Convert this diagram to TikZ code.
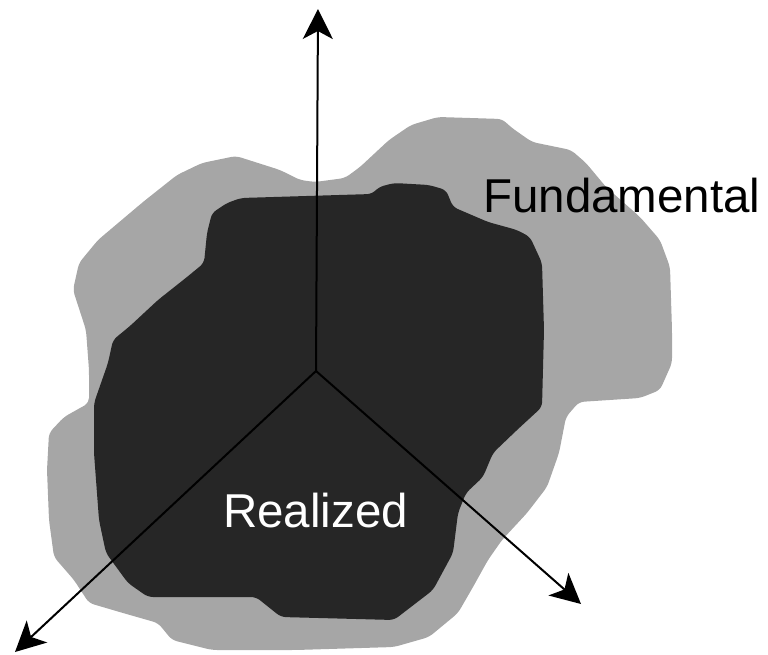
\documentclass[tikz,border=0pt]{standalone}
\usepackage{fontspec}
\setmainfont{Liberation Sans}
\usetikzlibrary{arrows.meta}
\definecolor{outergray}{RGB}{166,166,166}
\definecolor{innerdark}{RGB}{38,38,38}
\tikzset{
  outerblob/.style={fill=outergray, draw=none, rounded corners=5pt},
  innerblob/.style={fill=innerdark, draw=none, rounded corners=5pt},
  axisarrow/.style={draw=black, line width=2pt,
    -{Stealth[length=30pt, width=30pt, inset=8pt]}},
  biglabel/.style={font=\fontsize{47.5}{56}\selectfont, inner sep=0pt}
}
\begin{document}
\begin{tikzpicture}[x=1pt, y=-1pt]
\useasboundingbox (0,0) rectangle (768,655);

% outer region
\path[outerblob] (86,330) -- (73,290) -- (79,263) -- (98,240) -- (143,202)
  -- (177,175) -- (202,163) -- (236,156) -- (280,170) -- (300,180)
  -- (315,182) -- (345,178) -- (360,167) -- (389,140) -- (411,125)
  -- (438,117) -- (502,119) -- (512,128) -- (532,142) -- (571,150)
  -- (586,163) -- (606,187) -- (640,217) -- (660,240) -- (670,267)
  -- (672,330) -- (672,363) -- (660,390) -- (640,398) -- (579,402)
  -- (566,417) -- (559,453) -- (547,487) -- (527,513) -- (502,540)
  -- (488,560) -- (473,587) -- (458,613) -- (429,637) -- (394,647)
  -- (296,650) -- (212,650) -- (172,640) -- (158,623) -- (123,613)
  -- (89,603) -- (74,580) -- (54,557) -- (49,520) -- (47,470)
  -- (49,433) -- (64,417) -- (89,403) -- (89,370) -- cycle;

% inner region
\path[innerblob] (241,198) -- (372,194) -- (379,187) -- (394,183)
  -- (429,185) -- (446,190) -- (453,207) -- (488,222) -- (517,230)
  -- (530,237) -- (542,263) -- (544,330) -- (542,407) -- (517,430)
  -- (493,453) -- (483,477) -- (466,493) -- (458,513) -- (453,553)
  -- (433,590) -- (394,620) -- (281,617) -- (256,597) -- (148,597)
  -- (128,583) -- (106,553) -- (99,520) -- (94,453) -- (94,403)
  -- (108,363) -- (113,340) -- (130,326) -- (158,300) -- (187,277)
  -- (204,263) -- (207,233) -- (212,213) -- (227,203) -- cycle;

% axes
\coordinate (o) at (316,371);
\coordinate (up) at (318,9);
\coordinate (dl) at (15,652);
\coordinate (dr) at (581,604);
\draw[axisarrow] (o) -- (up);
\draw[axisarrow] (o) -- (dl);
\draw[axisarrow] (o) -- (dr);

% labels
\node[biglabel, anchor=base west] (fund) at (483,212) {Fundamental};
\node[biglabel, anchor=base west, text=white] (real) at (223,527) {Realized};
\end{tikzpicture}
\end{document}
